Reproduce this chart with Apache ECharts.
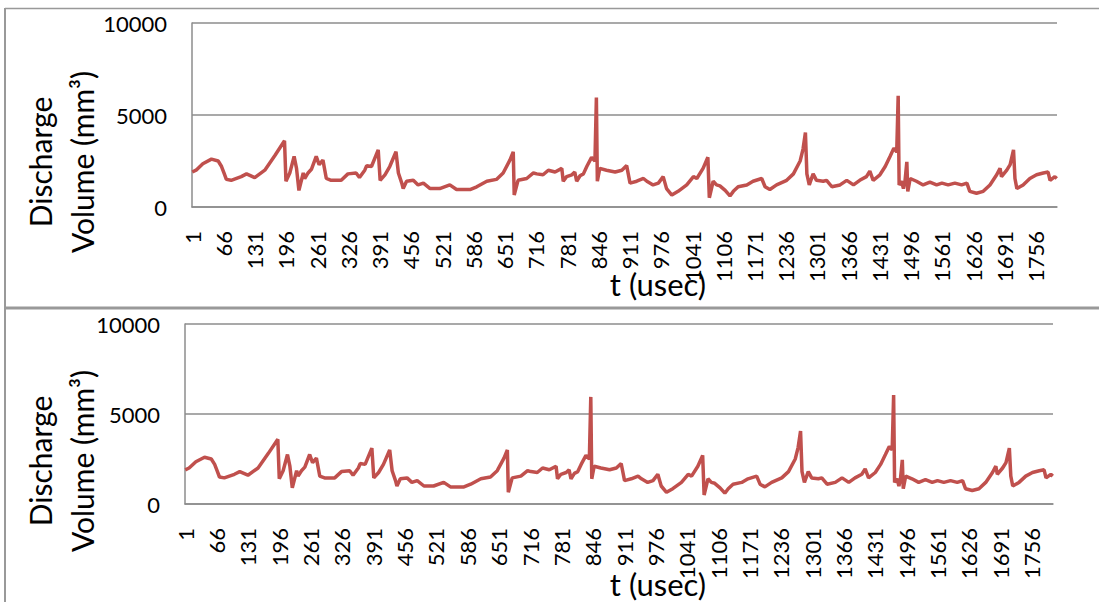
<!DOCTYPE html>
<html>
<head>
<meta charset="utf-8">
<title>Discharge Volume</title>
<script src="https://cdn.jsdelivr.net/npm/echarts@6/dist/echarts.min.js"></script>
<style>
html, body { margin: 0; padding: 0; background: #fff; }
#main { width: 1099px; height: 602px; }
</style>
</head>
<body>
<div id="main"></div>
<script>
// number of samples on the time axis
var pointCount = 1800;

// trace: sample index (t) and discharge volume (mm3)
var timeA = [1, 9, 23, 41, 55, 62, 67, 72, 82, 103, 114, 131, 152, 173, 193, 196, 204, 213, 218, 223,
	232, 235, 242, 249, 259, 265, 273, 280, 290, 311, 325, 342, 349, 360, 364, 374, 388, 392, 402, 412,
	425, 430, 437, 440, 447, 461, 471, 482, 496, 516, 537, 551, 579, 593, 614, 634, 648, 662, 669, 671];
var volA = [1900, 2000, 2350, 2600, 2500, 2200, 1850, 1500, 1450, 1650, 1800, 1600, 2000, 2800, 3600, 1400, 1850, 2750, 2100, 900,
	1850, 1550, 1850, 2050, 2750, 2300, 2550, 1550, 1450, 1450, 1800, 1850, 1600, 2000, 2250, 2200, 3100, 1450, 1750, 2200,
	3000, 1850, 1300, 1000, 1400, 1450, 1200, 1300, 1000, 1000, 1200, 950, 950, 1100, 1400, 1500, 1850, 2550, 3000, 650];

var timeB = [679, 697, 711, 718, 731, 742, 756, 770, 773, 780, 791, 797, 801, 808, 815, 822, 832, 839, 842, 844,
	849, 863, 881, 895, 905, 912, 926, 940, 947, 960, 971, 981, 988, 999, 1012, 1030, 1044, 1051, 1064, 1074,
	1077, 1085, 1092, 1099, 1110, 1120, 1127, 1137, 1155, 1168, 1186, 1193, 1203, 1217, 1238];
var volB = [1450, 1550, 1850, 1800, 1750, 2000, 1900, 2100, 1400, 1650, 1750, 1900, 1400, 1700, 1800, 2200, 2700, 2500, 5950, 1400,
	2100, 2000, 1900, 2000, 2250, 1300, 1400, 1550, 1400, 1200, 1300, 1650, 1000, 650, 850, 1200, 1650, 1550, 2100, 2700,
	500, 1400, 1200, 1150, 900, 600, 850, 1100, 1200, 1400, 1550, 1100, 950, 1200, 1450];

var timeC = [1252, 1266, 1272, 1277, 1280, 1285, 1293, 1300, 1314, 1321, 1332, 1349, 1363, 1377, 1390, 1404, 1411, 1418, 1432, 1443,
	1453, 1461, 1467, 1470, 1472, 1477, 1481, 1484, 1488, 1490, 1495, 1508, 1522, 1536, 1550, 1561, 1574, 1588, 1602, 1613,
	1619, 1633, 1647, 1661, 1675, 1682, 1685, 1696, 1703, 1710, 1713, 1717, 1730, 1744, 1758, 1772, 1782, 1786, 1796, 1800];
var volC = [1800, 2500, 3150, 4050, 1800, 1200, 1800, 1450, 1400, 1450, 1100, 1200, 1450, 1200, 1450, 1650, 1950, 1450, 1750, 2200,
	2750, 3200, 3000, 6050, 1200, 1400, 1000, 1350, 2450, 850, 1550, 1400, 1200, 1350, 1200, 1300, 1200, 1300, 1200, 1300,
	850, 750, 850, 1200, 1750, 2100, 1650, 2000, 2300, 3100, 1550, 1000, 1200, 1550, 1750, 1850, 1900, 1450, 1650, 1550];

var yTicks = [0, 5000, 10000];

var lineColor = '#C0504D';
var gridColor = '#8c8c8c';
var fontName = 'Lato';

var myChart;

function init() {
	var categories = [];
	for (var i = 1; i <= pointCount; i++) {
		categories.push(String(i));
	}

	// pairs of [category index, value]
	var trace = [];
	var times = timeA.concat(timeB, timeC);
	var vols = volA.concat(volB, volC);
	for (var k = 0; k < times.length; k++) {
		trace.push([times[k] - 1, vols[k]]);
	}

	var xAxisBase = function (idx) {
		return {
			type: 'category',
			gridIndex: idx,
			data: categories,
			boundaryGap: true,
			axisLine: { show: true, lineStyle: { color: gridColor, width: 1.5 } },
			axisTick: { show: false },
			splitLine: { show: false },
			axisLabel: {
				interval: 64,
				rotate: 90,
				margin: 24,
				color: '#000',
				fontSize: 22,
				fontFamily: fontName
			}
		};
	};
	var yAxisBase = function (idx) {
		return {
			type: 'value',
			gridIndex: idx,
			min: yTicks[0],
			max: yTicks[2],
			interval: 5000,
			axisLine: { show: true, lineStyle: { color: gridColor, width: 1.5 } },
			axisTick: { show: false },
			splitLine: { show: true, lineStyle: { color: gridColor, width: 1.5 } },
			axisLabel: {
				margin: 25,
				color: '#000',
				fontSize: 22,
				fontFamily: fontName,
				formatter: function (v) { return String(v); }
			}
		};
	};
	var seriesBase = function (idx) {
		return {
			type: 'line',
			xAxisIndex: idx,
			yAxisIndex: idx,
			data: trace,
			showSymbol: false,
			symbol: 'none',
			smooth: false,
			animation: false,
			lineStyle: { color: lineColor, width: 3.5 },
			itemStyle: { color: lineColor }
		};
	};
	var titleText = function (x, y, txt) {
		return {
			type: 'text',
			x: x,
			y: y,
			rotation: Math.PI / 2,
			style: {
				text: txt,
				fill: '#000',
				fontSize: 30,
				fontFamily: fontName,
				lineHeight: 42,
				align: 'center',
				verticalAlign: 'middle'
			}
		};
	};
	var xTitle = function (x, y) {
		return {
			type: 'text',
			x: x,
			y: y,
			z: -1,
			style: {
				text: 't (usec)',
				fill: '#000',
				fontSize: 31,
				fontFamily: fontName,
				align: 'center',
				verticalAlign: 'middle'
			}
		};
	};
	var border = function (x1, y1, x2, y2, w) {
		return {
			type: 'line',
			shape: { x1: x1, y1: y1, x2: x2, y2: y2 },
			style: { stroke: '#999999', lineWidth: w }
		};
	};

	var chartOption = {
		backgroundColor: '#fff',
		animation: false,
		grid: [
			{ left: 192, top: 23, width: 865, height: 184, outerBoundsMode: 'none' },
			{ left: 185, top: 324, width: 868, height: 180, outerBoundsMode: 'none' }
		],
		xAxis: [xAxisBase(0), xAxisBase(1)],
		yAxis: [yAxisBase(0), yAxisBase(1)],
		series: [seriesBase(0), seriesBase(1)],
		graphic: [
			border(5, 8.5, 1099, 8.5, 1.5),
			border(5, 8, 5, 602, 2),
			border(5, 308, 1099, 308, 3),
			titleText(61, 162, 'Discharge\nVolume (mm³)'),
			titleText(61, 461, 'Discharge\nVolume (mm³)'),
			xTitle(658, 284),
			xTitle(658, 584)
		]
	};

	myChart = echarts.init(document.getElementById('main'), null, { renderer: 'svg' });
	chartOption && myChart.setOption(chartOption);
}

init();
</script>
</body>
</html>
